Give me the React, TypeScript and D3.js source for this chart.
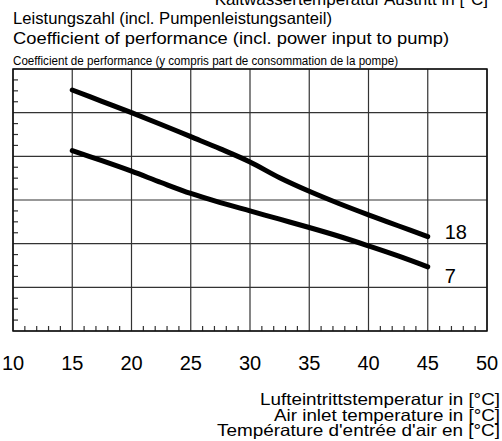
import React from 'react';
import * as d3 from 'd3';

// Air inlet temperature [°C]
const airTemps = [15, 17.5, 20, 22.5, 25, 27.5, 30, 32.5, 35, 37.5, 40, 42.5, 45];
// COP per water outlet temperature (no scale printed on the chart, values in grid units)
const cop18 = [5.52, 5.26, 5.0, 4.73, 4.45, 4.17, 3.87, 3.51, 3.2, 2.92, 2.66, 2.41, 2.16];
const cop7 = [4.13, 3.9, 3.66, 3.4, 3.15, 2.94, 2.75, 2.56, 2.37, 2.17, 1.95, 1.72, 1.47];
const seriesNames = ['18', '7'];
const xTicks = [10, 15, 20, 25, 30, 35, 40, 45, 50];
const topCut = 'Kaltwassertemperatur Austritt in [°C]';
const titleLines = [
  'Leistungszahl (incl. Pumpenleistungsanteil)',
  'Coefficient of performance (incl. power input to pump)',
  'Coefficient de performance (y compris part de consommation de la pompe)',
];
const axisLines = [
  'Lufteintrittstemperatur in [°C]',
  'Air inlet temperature in [°C]',
  "Température d'entrée d'air en [°C]",
];

const W = 502;
const H = 441;
const font = '"Liberation Sans", Arial, sans-serif';

export default function App() {
  const left = 13, right = 487, top = 69, bottom = 331;
  const x = d3.scaleLinear().domain([10, 50]).range([left, right]);
  const y = d3.scaleLinear().domain([0, 6]).range([bottom, top]);

  const line = d3.line<[number, number]>()
    .x(d => x(d[0]))
    .y(d => y(d[1]))
    .curve(d3.curveCatmullRom.alpha(0.5));

  const series = [cop18, cop7].map((vals, i) => ({
    name: seriesNames[i],
    pts: airTemps.map((t, j) => [t, vals[j]] as [number, number]),
  }));
  const labelDy = [2.5, 16.5];

  const yMajor = d3.range(0, 7, 1);
  const yMinor = d3.range(0, 6.01, 0.25).filter(v => v % 1 !== 0);
  const xMinor = d3.range(10, 50, 1).filter(v => v % 5 !== 0);

  // widths of the title / axis-title lines as measured on the original
  const titleW = [319, 436, 385];
  const axisW = [240, 226, 283];

  return (
    <svg width={W} height={H} style={{ position: 'absolute', left: 0, top: 0, background: '#fff' }}
      fontFamily={font}>
      {/* heading cut off at the very top, as in the original */}
      <text x={488} y={5} textAnchor="end" fontSize={17}>{topCut}</text>

      <text x={13} y={24} fontSize={16.5} textLength={titleW[0]} lengthAdjust="spacingAndGlyphs">{titleLines[0]}</text>
      <text x={13} y={44} fontSize={16.5} textLength={titleW[1]} lengthAdjust="spacingAndGlyphs">{titleLines[1]}</text>
      <text x={13} y={65} fontSize={13.5} textLength={titleW[2]} lengthAdjust="spacingAndGlyphs"
        fontFamily={'"Liberation Sans Narrow", "Arial Narrow", ' + font}>{titleLines[2]}</text>

      {/* grid */}
      {yMajor.map(v => (
        <line key={'gy' + v} x1={left} x2={right} y1={y(v)} y2={y(v)} stroke="#333" strokeWidth={1.2} />
      ))}
      {xTicks.map(v => (
        <line key={'gx' + v} x1={x(v)} x2={x(v)} y1={top} y2={bottom} stroke="#333" strokeWidth={1.2} />
      ))}
      {yMinor.map(v => (
        <line key={'my' + v} x1={left} x2={left + 5} y1={y(v)} y2={y(v)} stroke="#333" strokeWidth={1.2} />
      ))}
      {xMinor.map(v => (
        <line key={'mx' + v} x1={x(v)} x2={x(v)} y1={bottom} y2={bottom - 5} stroke="#333" strokeWidth={1.2} />
      ))}
      <rect x={left} y={top} width={right - left} height={bottom - top} fill="none" stroke="#111" strokeWidth={1.5} />

      {/* curves */}
      {series.map((s, i) => {
        const last = s.pts[s.pts.length - 1];
        return (
          <g key={s.name}>
            <path d={line(s.pts) || ''} fill="none" stroke="#000" strokeWidth={5} strokeLinecap="round" strokeLinejoin="round" />
            <text x={x(last[0]) + 17} y={y(last[1]) + labelDy[i]} fontSize={20}>{s.name}</text>
          </g>
        );
      })}

      {/* x tick labels */}
      {xTicks.map(v => (
        <text key={'xl' + v} x={x(v)} y={370} textAnchor="middle" fontSize={20}>{v}</text>
      ))}

      {/* axis title */}
      {axisLines.map((t, i) => (
        <text key={t} x={500} y={405 + i * 15.5} textAnchor="end" fontSize={16.5}
          textLength={axisW[i]} lengthAdjust="spacingAndGlyphs">{t}</text>
      ))}
    </svg>
  );
}
